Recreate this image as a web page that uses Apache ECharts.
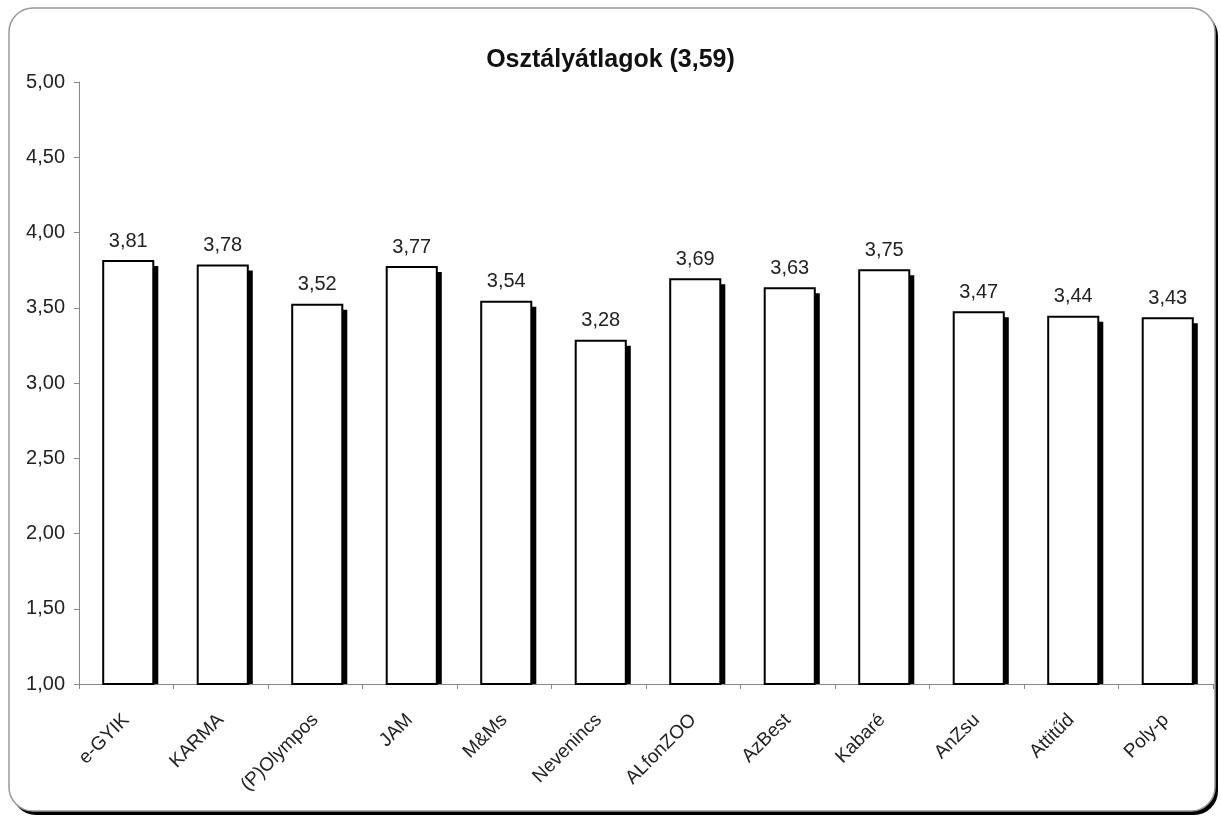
<!DOCTYPE html>
<html>
<head>
<meta charset="utf-8">
<script src="https://cdn.jsdelivr.net/npm/echarts@6/dist/echarts.min.js"></script>
<style>
html,body{margin:0;padding:0;background:#fff;}
#c{width:1221px;height:817px;}
</style>
</head>
<body>
<div id="c"></div>
<script>
var categories = ['e-GYIK','KARMA','(P)Olympos','JAM','M&Ms','Nevenincs','ALfonZOO','AzBest','Kabaré','AnZsu','Attitűd','Poly-p'];
var values = [3.81,3.78,3.52,3.77,3.54,3.28,3.69,3.63,3.75,3.47,3.44,3.43];
var titleText = 'Osztályátlagok (3,59)';
var yMin = 1, yMax = 5, yStep = 0.5;

var FONT = 'Liberation Sans, Arial, sans-serif';
function fmt(v){ return Number(v).toFixed(2).replace('.', ','); }

var chart = echarts.init(document.getElementById('c'));
chart.setOption({
  backgroundColor: '#fff',
  animation: false,
  graphic: [{
    type: 'rect', z: -20, silent: true,
    shape: {x: 12, y: 12, width: 1206, height: 803, r: 24},
    style: {fill: '#000'}
  }, {
    type: 'rect', z: -10, silent: true,
    shape: {x: 9, y: 8, width: 1206, height: 803, r: 24},
    style: {fill: '#fff', stroke: '#9a9a9a', lineWidth: 1.5}
  }],
  title: {
    text: titleText,
    left: 'center',
    top: 43,
    textStyle: {fontFamily: FONT, fontSize: 25, fontWeight: 'bold', color: '#111'}
  },
  grid: {left: 79, right: 8, top: 82, bottom: 133, containLabel: false},
  xAxis: {
    type: 'category',
    data: categories,
    axisLine: {lineStyle: {color: '#888', width: 1}},
    axisTick: {show: true, length: 5, lineStyle: {color: '#888'}},
    axisLabel: {interval: 0, rotate: 45, margin: 33, fontFamily: FONT, fontSize: 19, color: '#222'}
  },
  yAxis: {
    type: 'value',
    min: yMin, max: yMax, interval: yStep,
    axisLine: {show: true, lineStyle: {color: '#888', width: 1}},
    axisTick: {show: true, length: 5, lineStyle: {color: '#888'}},
    splitLine: {show: false},
    axisLabel: {formatter: fmt, margin: 14, fontFamily: FONT, fontSize: 20, color: '#222'}
  },
  series: [{
    type: 'custom',
    data: values.map(function(v, i){ return [i, v]; }),
    encode: {x: 0, y: 1},
    renderItem: function(params, api){
      var top = api.coord([api.value(0), api.value(1)]);
      var base = api.coord([api.value(0), yMin]);
      var w = api.size([1, 0])[0] * 0.53;
      var cx = top[0] + 2, ty = top[1], by = base[1];
      return {
        type: 'group',
        children: [{
          type: 'rect',
          shape: {x: cx - w / 2 + 5, y: ty + 5, width: w, height: by - ty - 5},
          style: {fill: '#000'}
        }, {
          type: 'rect',
          shape: {x: cx - w / 2, y: ty, width: w, height: by - ty},
          style: {fill: '#fff', stroke: '#000', lineWidth: 2}
        }, {
          type: 'text',
          style: {
            text: fmt(api.value(1)),
            x: cx, y: ty - 10,
            align: 'center', verticalAlign: 'bottom',
            font: '20px ' + FONT,
            fill: '#222'
          }
        }]
      };
    }
  }]
});
</script>
</body>
</html>
